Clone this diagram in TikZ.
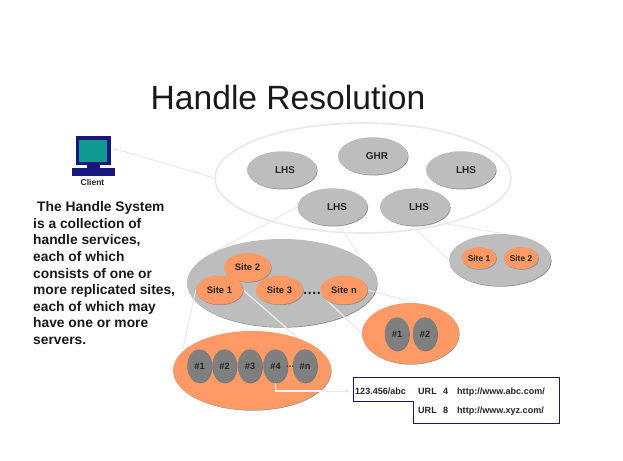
\documentclass[tikz,border=0pt]{standalone}
\usepackage{fontspec}
\setmainfont{Liberation Sans}
\usetikzlibrary{shapes.geometric,arrows.meta}
\definecolor{ell}{HTML}{BDBDBD}
\definecolor{org}{HTML}{FF9966}
\definecolor{srv}{HTML}{7F7F7F}
\definecolor{faint}{HTML}{E9E9E9}
\definecolor{navy}{HTML}{17177F}
\definecolor{teal2}{HTML}{0F9A90}
\definecolor{boxline}{HTML}{1A1A60}
\tikzset{
  x=1pt,y=-1pt,
  oval/.style n args={4}{ellipse,minimum width=#1pt,minimum height=#2pt,inner sep=0pt,fill=#3,
    preaction={fill=#4,transform canvas={shift={(0.6pt,-0.7pt)}}},
    font=\fontsize{10}{12}\bfseries,text=black!85},
  lhs/.style={oval={70}{37.5}{ell}{black!45}},
  site/.style={oval={47}{29}{org}{black!45},font=\fontsize{9.4}{12}\bfseries},
  smallsite/.style={oval={35}{22}{org}{black!45},font=\fontsize{8.4}{10}\bfseries},
  srvr/.style={oval={24.5}{33.5}{srv}{black!55},font=\fontsize{9.2}{12}\bfseries},
  faintline/.style={draw=faint,line width=0.9pt},
  whiteline/.style={draw=faint,line width=1.3pt},
  body/.style={font=\fontsize{13.8}{16.6}\bfseries,text=black!90,align=left,anchor=north west,inner sep=0pt},
  url/.style={font=\fontsize{9.05}{10}\bfseries,text=black!85,inner sep=0pt,anchor=base west},
}
\begin{document}
\begin{tikzpicture}
\useasboundingbox (0,0) rectangle (623,460);
\fill[white] (0,0) rectangle (623,460);

\node[font=\fontsize{33.6}{40}\selectfont,text=black!90,anchor=base west,inner sep=0pt] (title) at (150.5,109) {Handle Resolution};

% client
\fill[navy] (76,136) rectangle (111,165);
\fill[teal2] (79,140) rectangle (107,162);
\fill[navy] (87,165) rectangle (100,168);
\fill[navy] (72,168) rectangle (115,176);
\node[font=\fontsize{8.5}{10}\bfseries,text=black!85,inner sep=0pt] (clientlabel) at (92.5,182) {Client};
\coordinate (clienttip) at (112,148);

% text
\node[body] (bodytext) at (33,201.5) {\hspace*{4pt}The Handle System\\is a collection of\\handle services,\\each of which\\consists of one or\\more replicated sites,\\each of which may\\have one or more\\servers.};

% ellipses placed first as named, drawn so connectors go beneath the fills
\node[ellipse,minimum width=296pt,minimum height=110pt,inner sep=0pt,draw=faint,line width=1.6pt,fill=white] (hs) at (363,178) {};
\draw[faintline,-{Stealth[length=5pt,width=4pt]}] (hs.west) -- (clienttip);

\node[oval={190}{88}{ell}{black!45},opacity=0] (ga) at (282,283) {};
\node[oval={102}{52}{ell}{black!45},opacity=0] (gb) at (500,260) {};
\node[oval={158}{79}{org}{black!40},opacity=0] (oa) at (252,370.5) {};
\node[oval={97}{61}{org}{black!40},opacity=0] (ob) at (410.5,333.5) {};
\node[lhs,opacity=0] (l4) at (332.5,207) {};
\node[lhs,opacity=0] (l5) at (415,207) {};

\draw[faintline] (l4.west) -- (ga.north west);
\draw[faintline] (l4.-70) -- (ga.east);
\draw[faintline] (l5.-35) -- (gb.80);
\draw[faintline] (l5.-100) -- (gb.west);

\node[oval={190}{88}{ell}{black!45}] (ga) at (282,283) {};
\node[oval={102}{52}{ell}{black!45}] (gb) at (500,260) {};

\node[lhs] (l1) at (282,170) {\hspace*{6pt}LHS};
\node[lhs] (g) at (373,156) {\hspace*{8pt}GHR};
\node[lhs] (l3) at (461,170) {\hspace*{10pt}LHS};
\node[lhs] (l4) at (332.5,207) {\hspace*{9pt}LHS};
\node[lhs] (l5) at (415,207) {\hspace*{8pt}LHS};

\node[site,opacity=0] (s1) at (219.5,290) {};
\node[site,opacity=0] (sn) at (344,290) {};

\draw[faintline] (s1.west) -- (oa.165);
\draw[whiteline] (s1.east) -- (oa.35);
\draw[whiteline] (sn.-150) -- (ob.west);
\draw[faintline] (sn.east) -- (ob.80);

\node[oval={158}{79}{org}{black!40}] (oa) at (252,370.5) {};
\node[oval={97}{61}{org}{black!40}] (ob) at (410.5,333.5) {};

\node[site] (s2) at (247.5,267.5) {Site 2};
\node[site] (s1) at (219.5,290) {Site 1};
\node[site] (s3) at (279.5,290) {Site 3};
\node[site] (sn) at (344,290) {Site n};
\node[font=\fontsize{14}{14}\bfseries,text=black!90,inner sep=0pt,anchor=base] (sdots) at (312,294) {.\kern0.6pt.\kern0.6pt.\kern0.6pt.};

\node[smallsite] (r1) at (479,258) {Site 1};
\node[smallsite] (r2) at (521,258) {Site 2};

\node[srvr] (a1) at (199.5,366) {\#1};
\node[srvr] (a2) at (224.5,366) {\#2};
\node[srvr] (a3) at (250,366) {\#3};
\node[srvr] (a4) at (275.5,366) {\#4};
\node[srvr] (an) at (305,366) {\#n};
\node[font=\fontsize{10}{12}\bfseries,text=black!70,inner sep=0pt] (adots) at (290,367) {...};

\node[srvr] (b1) at (397,334) {\#1};
\node[srvr] (b2) at (425,334) {\#2};

% record table
\node[inner sep=0pt,minimum size=0pt] (rec) at (350,391) {};
\filldraw[draw=boxline,fill=white,line width=0.8pt] (353,377) -- (559,377) -- (559,423) -- (413,423) -- (413,401) -- (353,401) -- cycle;
\coordinate (elbow) at (327,391);
\draw[faintline,-{Stealth[length=5pt,width=4pt]}] (elbow) -- (rec);
\draw[draw=white!90!gray,line width=1.6pt] (a4.south) |- (elbow);

\node[url] (h) at (355,394) {123.456/abc};
\node[url] (u1) at (418,394) {URL};
\node[url] (n1) at (443,394) {4};
\node[url] (w1) at (457,394) {http://www.abc.com/};
\node[url] (u2) at (418,413) {URL};
\node[url] (n2) at (443,413) {8};
\node[url] (w2) at (457,413) {http://www.xyz.com/};
\end{tikzpicture}
\end{document}
